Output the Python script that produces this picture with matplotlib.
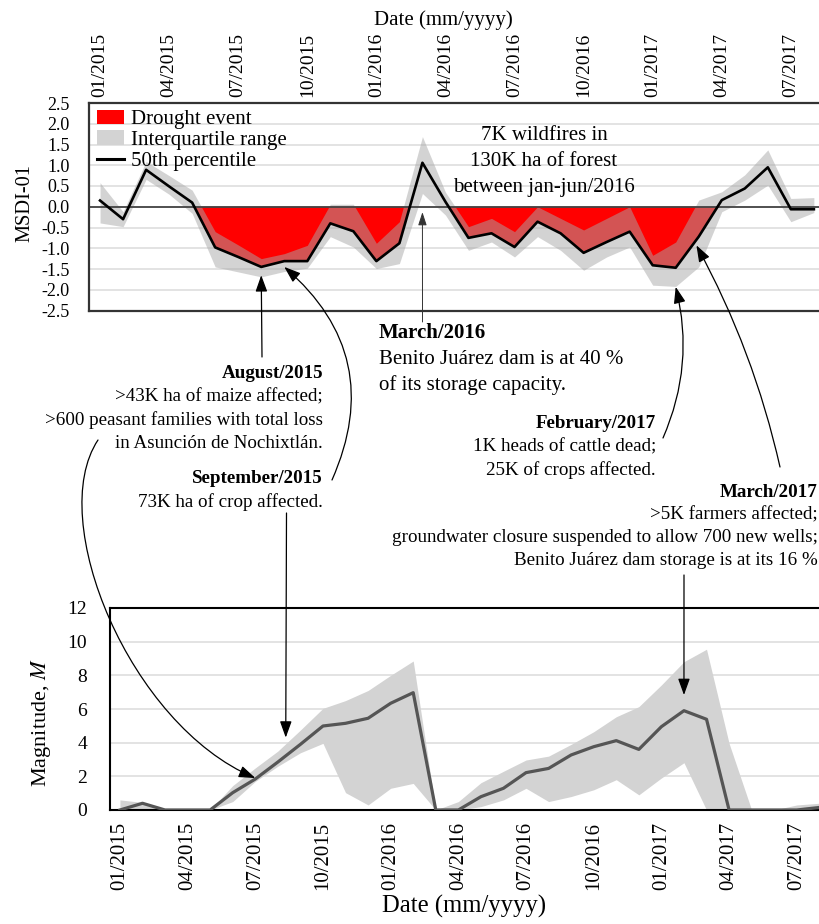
import numpy as np
import matplotlib
matplotlib.use("Agg")
import matplotlib.pyplot as plt
from matplotlib.patches import FancyArrowPatch, Patch
from matplotlib.lines import Line2D
from matplotlib.path import Path
from matplotlib.transforms import IdentityTransform
from matplotlib.ticker import FormatStrFormatter

plt.rcParams['font.family'] = ['Liberation Serif', 'DejaVu Serif']
plt.rcParams['mathtext.fontset'] = 'stix'

# ---------------- data ----------------
dates = ['01/2015', '02/2015', '03/2015', '04/2015', '05/2015', '06/2015', '07/2015', '08/2015',
         '09/2015', '10/2015', '11/2015', '12/2015', '01/2016', '02/2016', '03/2016', '04/2016',
         '05/2016', '06/2016', '07/2016', '08/2016', '09/2016', '10/2016', '11/2016', '12/2016',
         '01/2017', '02/2017', '03/2017', '04/2017', '05/2017', '06/2017', '07/2017', '08/2017']
tick_labels = dates[::3]

# MSDI-01 percentiles
msdi_p50 = [0.15, -0.30, 0.89, 0.49, 0.10, -0.98, -1.21, -1.45, -1.31, -1.31, -0.40, -0.59,
            -1.31, -0.88, 1.06, 0.12, -0.75, -0.64, -0.97, -0.36, -0.64, -1.11, -0.85, -0.60,
            -1.41, -1.47, -0.72, 0.16, 0.44, 0.95, -0.06, -0.06]
msdi_p75 = [0.58, -0.12, 1.09, 0.75, 0.40, -0.60, -0.92, -1.25, -1.13, -0.93, 0.06, 0.06,
            -0.88, -0.36, 1.69, 0.35, -0.48, -0.28, -0.60, 0.00, -0.28, -0.56, -0.28, 0.00,
            -1.17, -0.85, 0.16, 0.36, 0.77, 1.37, 0.20, 0.22]
msdi_p25 = [-0.39, -0.48, 0.66, 0.30, -0.16, -1.45, -1.57, -1.69, -1.56, -1.48, -0.72, -0.97,
            -1.49, -1.37, 0.32, -0.20, -1.05, -0.85, -1.21, -0.72, -1.05, -1.53, -1.21, -0.97,
            -1.89, -1.92, -1.45, -0.12, 0.16, 0.52, -0.36, -0.14]
drought_event = [0, 0, 0, 0, 0, 1, 1, 1, 1, 1, 1, 1, 1, 1, 0, 1, 1, 1, 1, 1, 1, 1, 1, 1,
                 1, 1, 1, 0, 0, 0, 0, 0]

# Magnitude percentiles
mag_p50 = [0.0, 0.4, 0.0, 0.0, 0.0, 1.03, 1.84, 2.85, 3.9, 4.99, 5.15, 5.45, 6.34, 6.97, 0.0, 0.0,
           0.79, 1.29, 2.22, 2.47, 3.27, 3.76, 4.12, 3.60, 4.95, 5.90, 5.39, 0.0, 0.0, 0.0, 0.0, 0.15]
mag_p75 = [0.6, 0.45, 0.0, 0.0, 0.0, 1.45, 2.5, 3.5, 4.75, 6.04, 6.5, 7.1, 8.0, 8.85, 0.0, 0.5,
           1.62, 2.3, 2.97, 3.2, 3.9, 4.65, 5.54, 6.14, 7.43, 8.81, 9.55, 3.96, 0.0, 0.0, 0.3, 0.4]
mag_p25 = [0.0, 0.0, 0.0, 0.0, 0.0, 0.5, 1.7, 2.6, 3.4, 3.96, 1.03, 0.30, 1.29, 1.58, 0.0, 0.0,
           0.2, 0.6, 1.29, 0.5, 0.8, 1.2, 1.8, 0.9, 1.9, 2.81, 0.0, 0.0, 0.0, 0.0, 0.0, 0.0]

legend_labels = ['Drought event', 'Interquartile range', '50th percentile']

# ---------------- figure ----------------
W, H = 819, 924
SERIF = 'Liberation Serif'
fig = plt.figure(figsize=(W / 100, H / 100), dpi=100)


def fx(x):
    return x / W


def fy(y):
    return 1 - y / H


x = np.arange(len(dates))
p50 = np.array(msdi_p50)
p25 = np.array(msdi_p25)
p75 = np.array(msdi_p75)
dr = np.array(drought_event).astype(bool)

# ---- top axes ----
ax1 = fig.add_axes([fx(89), fy(310.5), (827 - 89) / W, 207.5 / H])
ax1.set_xlim(-0.48, 31.57)
ax1.set_ylim(-2.5, 2.5)
ax1.set_yticks(np.linspace(-2.5, 2.5, 11))
ax1.yaxis.set_major_formatter(FormatStrFormatter('%.1f'))
ax1.set_axisbelow(True)
ax1.yaxis.grid(True, color='#e0e0e0', lw=1.3)
ax1.fill_between(x, p50, 0, where=dr & (p50 < 0), interpolate=True, color='#ff0000', lw=0, zorder=1)
ax1.fill_between(x, p25, p75, color='#a8a8a8', alpha=0.5, lw=0, zorder=2)
ax1.axhline(0, color='#444444', lw=1.3, zorder=2.5)
ax1.plot(x, p50, color='black', lw=1.9, zorder=3)
ax1.xaxis.tick_top()
ax1.set_xticks(x[::3])
ax1.set_xticklabels(tick_labels, rotation=90)
ax1.tick_params(axis='x', length=0, pad=4.3, labelsize=14)
ax1.tick_params(axis='y', length=0, pad=13.7, labelsize=13)
for s in ['left', 'top', 'bottom']:
    ax1.spines[s].set_color('#333333')
    ax1.spines[s].set_linewidth(1.6)
ax1.spines['right'].set_visible(False)

handles = [Patch(facecolor='#ff0000', edgecolor='none'),
           Patch(facecolor='#d3d3d3', edgecolor='none'),
           Line2D([], [], color='black', lw=2.2)]
ax1.legend(handles, legend_labels, loc='upper left', bbox_to_anchor=(0.0108, 0.968),
           frameon=False, fontsize=15, borderpad=0, borderaxespad=0, labelspacing=0.06,
           handlelength=1.3, handletextpad=0.35, handleheight=0.7,
           prop={'family': SERIF, 'size': 15})

# ---- bottom axes ----
ax2 = fig.add_axes([fx(110), fy(810), (827 - 110) / W, 202 / H])
ax2.set_xlim(-0.44, 31.34)
ax2.set_ylim(0, 12)
ax2.set_yticks(np.arange(0, 13, 2))
ax2.set_axisbelow(True)
ax2.yaxis.grid(True, color='#e0e0e0', lw=1.3)
ax2.fill_between(x, mag_p25, mag_p75, color='#d3d3d3', lw=0, zorder=1)
ax2.plot(x, mag_p50, color='#555555', lw=2.3, zorder=3)
ax2.set_xticks(x[::3])
ax2.set_xticklabels(tick_labels, rotation=90)
ax2.tick_params(axis='x', length=0, pad=8.6, labelsize=15)
ax2.tick_params(axis='y', length=0, pad=16.6, labelsize=14)
for s in ['left', 'top', 'bottom']:
    ax2.spines[s].set_color('black')
    ax2.spines[s].set_linewidth(1.5)
ax2.spines['right'].set_visible(False)

for ax in (ax1, ax2):
    for lbl in ax.get_xticklabels() + ax.get_yticklabels():
        lbl.set_fontfamily(SERIF)

# ---- axis labels ----
fig.text(fx(443), fy(25), 'Date (mm/yyyy)', ha='center', va='baseline', fontsize=15)
fig.text(fx(464), fy(913), 'Date (mm/yyyy)', ha='center', va='baseline', fontsize=17.7)
fig.text(fx(24.5), fy(202.5), 'MSDI-01', rotation=90, ha='center', va='center', fontsize=14.7)
fig.text(fx(41), fy(723), 'Magnitude, $M$', rotation=90, ha='center', va='center', fontsize=16)


# ---- annotation texts ----
def block(lines, xpos, y0, dy, ha, size, bold_first=True):
    for i, t in enumerate(lines):
        fig.text(fx(xpos), fy(y0 + i * dy), t, ha=ha, va='baseline', fontsize=size,
                 fontweight='bold' if (i == 0 and bold_first) else 'normal')


block(['7K wildfires in', '130K ha of forest', 'between jan-jun/2016'], 544, 140, 26,
      'center', 15, bold_first=False)
block(['August/2015', '>43K ha of maize affected;', '>600 peasant families with total loss',
       'in Asunción de Nochixtlán.'], 323, 377.7, 23.5, 'right', 13.7)
block(['September/2015', '73K ha of crop affected.'], 323, 483.3, 23.4, 'right', 13.7)
block(['March/2016', 'Benito Juárez dam is at 40 %', 'of its storage capacity.'],
      379, 338.3, 25.9, 'left', 15)
block(['February/2017', '1K heads of cattle dead;', '25K of crops affected.'],
      656, 428.3, 23.3, 'right', 13.7)
block(['March/2017', '>5K farmers affected;', 'groundwater closure suspended to allow 700 new wells;',
       'Benito Juárez dam storage is at its 16 %'], 818, 496.7, 22.8, 'right', 13.7)


# ---- arrows ----
def arrow(ax, xy, start, rad=0.0, lw=0.9, color='black', hl=0.5, hw=0.18):
    pB = ax.transData.transform(xy)
    pA = (start[0], H - start[1])
    a = FancyArrowPatch(pA, pB, transform=IdentityTransform(),
                        arrowstyle=f'-|>,head_length={hl},head_width={hw}',
                        connectionstyle=f'arc3,rad={rad}', mutation_scale=20,
                        lw=lw, color=color, shrinkA=0, shrinkB=0, zorder=6)
    fig.add_artist(a)


arrow(ax1, (7, -1.65), (262, 357))
arrow(ax1, (8, -1.45), (332, 480), rad=0.37)
arrow(ax1, (14, -0.13), (422.5, 322), lw=0.7, color='#333333', hl=0.4, hw=0.13)
arrow(ax1, (25, -1.93), (663, 438), rad=0.17)
arrow(ax1, (25.9, -0.93), (780, 467), rad=0.07)
arrow(ax2, (7.35, 4.3), (286.5, 513))
arrow(ax2, (25, 6.83), (684, 575))

# curved August arrow into the magnitude panel (cubic path)
end = ax2.transData.transform((6, 1.9))
verts = [(98, H - 440), (45, H - 520), (130, H - 725), tuple(end)]
path = Path(verts, [Path.MOVETO, Path.CURVE4, Path.CURVE4, Path.CURVE4])
curve = FancyArrowPatch(path=path, transform=IdentityTransform(),
                        arrowstyle='-|>,head_length=0.5,head_width=0.18', mutation_scale=20,
                        lw=0.9, color='black', zorder=6)
fig.add_artist(curve)

fig.savefig('out.png', dpi=100)
